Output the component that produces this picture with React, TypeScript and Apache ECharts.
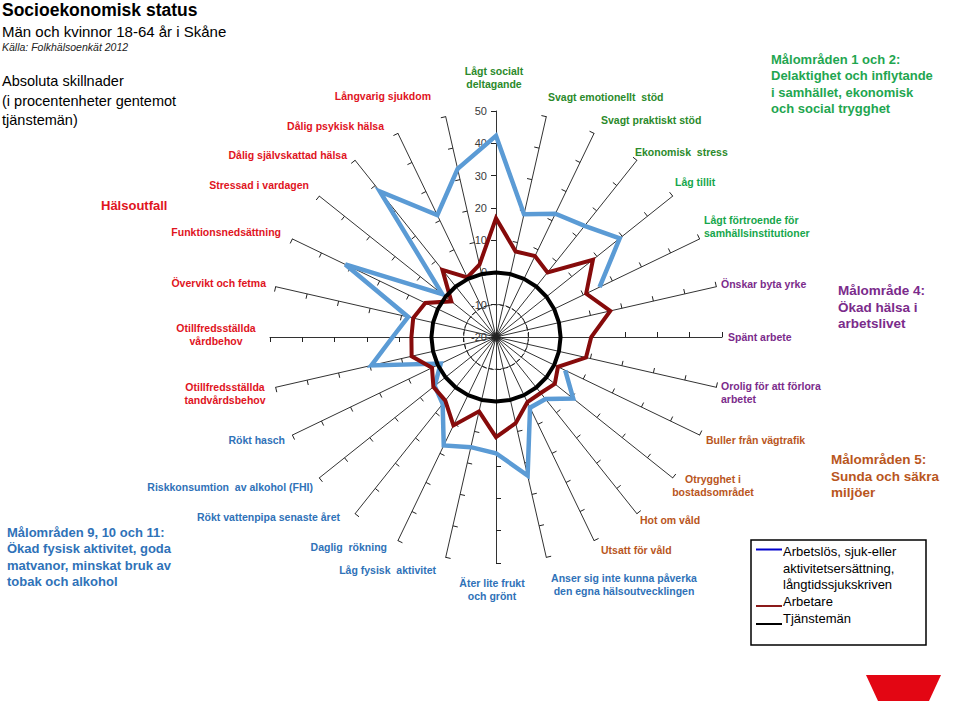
import React, { useEffect, useRef } from 'react';
import * as echarts from 'echarts';

// ---------- DATA ----------
const categories: string[] = [
  'Lågt socialt\ndeltagande',
  'Svagt emotionellt  stöd',
  'Svagt praktiskt stöd',
  'Ekonomisk  stress',
  'Låg tillit',
  'Lågt förtroende för\nsamhällsinstitutioner',
  'Önskar byta yrke',
  'Spänt arbete',
  'Orolig för att förlora\narbetet',
  'Buller från vägtrafik',
  'Otrygghet i\nbostadsområdet',
  'Hot om våld',
  'Utsatt för våld',
  'Anser sig inte kunna påverka\nden egna hälsoutvecklingen',
  'Äter lite frukt\noch grönt',
  'Låg fysisk  aktivitet',
  'Daglig  rökning',
  'Rökt vattenpipa senaste året',
  'Riskkonsumtion  av alkohol (FHI)',
  'Rökt hasch',
  'Otillfredsställda\ntandvårdsbehov',
  'Otillfredsställda\nvårdbehov',
  'Övervikt och fetma',
  'Funktionsnedsättning',
  'Stressad i vardagen',
  'Dålig självskattad hälsa',
  'Dålig psykisk hälsa',
  'Långvarig sjukdom',
];

const seriesNames: string[] = [
  'Arbetslös, sjuk-eller\naktivitetsersättning,\nlångtidssjukskriven',
  'Arbetare',
  'Tjänstemän',
];

// Arbetslös, sjuk- eller aktivitetsersättning, långtidssjukskriven
const arbetslos: (number | null)[] = [
  42.3, 19, 22.4, 24, 29, 15.6, null, null, null, 3.8, 10.6, 4.6, 4.3, 24,
  16, 15, 17.3, 6.5, 4.3, -1, 19.6, 12, 7.9, 31.8, 1.3, 37.7, 21.9, 33.4,
];
// Arbetare
const arbetare: (number | null)[] = [
  16.8, 7.2, 7.8, 5.6, 18.4, 11, 16.3, 9.5, 8.6, 1.3, 3.3, 2.2, 2.4, 7.4,
  11, 3.6, 10.4, 5.2, 4.8, 2.0, 6.8, 6.2, 6.3, 4.3, -2.3, 6.6, 0.5, 3,
];
// Tjänstemän (reference group)
const tjansteman: (number | null)[] = [
  0, 0, 0, 0, 0, 0, 0, 0, 0, 0, 0, 0, 0, 0,
  0, 0, 0, 0, 0, 0, 0, 0, 0, 0, 0, 0, 0, 0,
];

const radialTicks: number[] = [-20, -10, 0, 10, 20, 30, 40, 50];

// ---------- STYLE / LAYOUT ----------
const FONT = 'Arial, "Liberation Sans", Helvetica, sans-serif';
const COL = {
  green1: '#2b8a2b',
  green2: '#16a64c',
  greenHead: '#1fa650',
  purple: '#7b2b8b',
  brown: '#b9561d',
  blue: '#2f72b8',
  red: '#e0141e',
};

// label anchor x, y, alignment, colour key for each category
const labelLayout: [number, number, string, keyof typeof COL][] = [
  [494, 77, 'center', 'green1'],
  [548, 97, 'left', 'green1'],
  [601, 120, 'left', 'green1'],
  [635, 152, 'left', 'green1'],
  [675, 182, 'left', 'green2'],
  [704, 226, 'left', 'green2'],
  [721, 284, 'left', 'purple'],
  [728, 337, 'left', 'purple'],
  [721, 392, 'left', 'purple'],
  [706, 440, 'left', 'brown'],
  [713, 485, 'center', 'brown'],
  [640, 520, 'left', 'brown'],
  [601, 550, 'left', 'brown'],
  [624, 584, 'center', 'blue'],
  [492, 589, 'center', 'blue'],
  [436, 570, 'right', 'blue'],
  [387, 547, 'right', 'blue'],
  [340, 517, 'right', 'blue'],
  [313, 487, 'right', 'blue'],
  [285, 440, 'right', 'blue'],
  [225, 393, 'center', 'red'],
  [216, 334, 'center', 'red'],
  [266, 283, 'right', 'red'],
  [281, 232, 'right', 'red'],
  [309, 185, 'right', 'red'],
  [347, 155, 'right', 'red'],
  [384, 126, 'right', 'red'],
  [431, 96, 'right', 'red'],
];

const CENTER = [496, 337];
const RADIUS = 226;

function txt(
  text: string,
  x: number,
  y: number,
  size: number,
  fill: string,
  opts: { bold?: boolean; italic?: boolean; align?: string; lineHeight?: number } = {}
) {
  const align = opts.align || 'left';
  return {
    type: 'text',
    x,
    y,
    silent: true,
    z: 10,
    style: {
      text,
      x: 0,
      y: 0,
      fill,
      fontSize: size,
      fontFamily: FONT,
      fontWeight: opts.bold ? 'bold' : 'normal',
      fontStyle: opts.italic ? 'italic' : 'normal',
      align,
      textAlign: align,
      verticalAlign: 'middle',
      textVerticalAlign: 'middle',
      lineHeight: opts.lineHeight || Math.round(size * 1.25),
    },
  };
}

// Build a polar polyline (radius, angle-index) that closes over the top,
// leaving a gap wherever a value is missing.
function loopData(values: (number | null)[]) {
  const n = values.length;
  let start = 0;
  let hasGap = false;
  values.forEach((v, i) => {
    if (v == null) {
      start = (i + 1) % n;
      hasGap = true;
    }
  });
  const count = hasGap ? n : n + 2;
  const out: any[] = [];
  for (let k = 0; k < count; k++) {
    const i = (start + k) % n;
    const v = values[i];
    out.push([v == null ? '-' : v, start + k]);
  }
  return out;
}

export default function App() {
  const ref = useRef<HTMLDivElement>(null);

  useEffect(() => {
    if (!ref.current) return;
    const chart = echarts.init(ref.current, null, { renderer: 'svg' });

    const indicatorLabels = categories.map((name, i) => {
      const [x, y, align, ck] = labelLayout[i];
      return txt(name, x, y, 10.5, COL[ck], { bold: true, align, lineHeight: 13 });
    });

    const graphics: any[] = [
      txt('Socioekonomisk status', 2, 10, 17.5, '#000', { bold: true }),
      txt('Män och kvinnor 18-64 år i Skåne', 2, 31, 15, '#000'),
      txt('Källa: Folkhälsoenkät 2012', 2, 47, 10.5, '#222', { italic: true }),
      txt('Absoluta skillnader', 2, 81, 14.5, '#000'),
      txt('(i procentenheter gentemot', 2, 101, 14.5, '#000'),
      txt('tjänstemän)', 2, 120, 14.5, '#000'),
      txt('Hälsoutfall', 101, 205, 13, COL.red, { bold: true }),
      txt('Målområden 1 och 2:\nDelaktighet och inflytande\ni samhället, ekonomisk\noch social trygghet',
        771, 84, 13, COL.greenHead, { bold: true, lineHeight: 16.4 }),
      txt('Målområde 4:\nÖkad hälsa i\narbetslivet', 838, 307, 13.5, COL.purple, { bold: true, lineHeight: 16.5 }),
      txt('Målområden 5:\nSunda och säkra\nmiljöer', 831, 476, 13.5, COL.brown, { bold: true, lineHeight: 16.5 }),
      txt('Målområden 9, 10 och 11:\nÖkad fysisk aktivitet, goda\nmatvanor, minskat bruk av\ntobak och alkohol',
        7, 557, 13, COL.blue, { bold: true, lineHeight: 16.5 }),
      ...indicatorLabels,
      // legend box
      {
        type: 'rect',
        z: 9,
        silent: true,
        shape: { x: 751, y: 540, width: 175, height: 105 },
        style: { fill: '#fff', stroke: '#000', lineWidth: 1.5 },
      },
      {
        type: 'line', z: 10, silent: true,
        shape: { x1: 756, y1: 549.5, x2: 782, y2: 549.5 },
        style: { stroke: '#0000cc', lineWidth: 2 },
      },
      {
        type: 'line', z: 10, silent: true,
        shape: { x1: 756, y1: 606, x2: 782, y2: 606 },
        style: { stroke: '#8b1a1a', lineWidth: 2 },
      },
      {
        type: 'line', z: 10, silent: true,
        shape: { x1: 756, y1: 624, x2: 782, y2: 624 },
        style: { stroke: '#000', lineWidth: 2 },
      },
      txt(seriesNames[0], 783, 568, 13, '#000', { lineHeight: 16.5 }),
      txt(seriesNames[1], 783, 601, 13, '#000'),
      txt(seriesNames[2], 783, 618, 13, '#000'),
      // logo fragment
      {
        type: 'polygon',
        silent: true,
        shape: { points: [[866, 675], [941, 675], [929, 701], [878, 701]] },
        style: { fill: '#e30613' },
      },
    ];

    const splitColors = radialTicks.map((t) =>
      t === -10 || t === 0 ? '#444' : 'rgba(0,0,0,0)'
    );

    const option: any = {
      animation: false,
      backgroundColor: '#fff',
      radar: {
        center: CENTER,
        radius: RADIUS,
        startAngle: 90,
        shape: 'circle',
        splitNumber: radialTicks.length - 1,
        indicator: categories.map((name, i) =>
          i === 0
            ? { name, min: radialTicks[0], max: radialTicks[radialTicks.length - 1], axisLabel: { show: true } }
            : { name, min: radialTicks[0], max: radialTicks[radialTicks.length - 1] }
        ),
        axisName: { show: false },
        axisLine: { lineStyle: { color: '#333', width: 1 } },
        axisTick: { show: true, length: 5, lineStyle: { color: '#222', width: 1 } },
        axisLabel: {
          show: false,
          color: '#3a3a3a',
          fontSize: 11,
          fontFamily: FONT,
          margin: 9,
        },
        splitLine: { show: true, lineStyle: { color: splitColors, type: 'dashed', width: 1 } },
        splitArea: { show: false },
      },
      polar: { center: CENTER, radius: RADIUS },
      angleAxis: {
        type: 'value',
        min: 0,
        max: categories.length,
        startAngle: 90,
        clockwise: true,
        show: false,
      },
      radiusAxis: {
        type: 'value',
        min: radialTicks[0],
        max: radialTicks[radialTicks.length - 1],
        show: false,
      },
      series: [
        {
          name: seriesNames[0],
          type: 'line',
          coordinateSystem: 'polar',
          data: loopData(arbetslos),
          symbol: 'none',
          clip: false,
          silent: true,
          connectNulls: false,
          lineStyle: { color: '#5b9bd5', width: 4.5, join: 'miter' },
        },
        {
          name: seriesNames[1],
          type: 'line',
          coordinateSystem: 'polar',
          data: loopData(arbetare),
          symbol: 'none',
          clip: false,
          silent: true,
          lineStyle: { color: '#860b0b', width: 4, join: 'miter' },
        },
        {
          name: seriesNames[2],
          type: 'line',
          coordinateSystem: 'polar',
          data: loopData(tjansteman),
          symbol: 'none',
          clip: false,
          silent: true,
          lineStyle: { color: '#000', width: 4 },
        },
      ],
      graphic: graphics,
    };

    chart.setOption(option);
    return () => chart.dispose();
  }, []);

  return (
    <div
      ref={ref}
      style={{ position: 'absolute', left: 0, top: 0, width: 960, height: 701 }}
    />
  );
}
